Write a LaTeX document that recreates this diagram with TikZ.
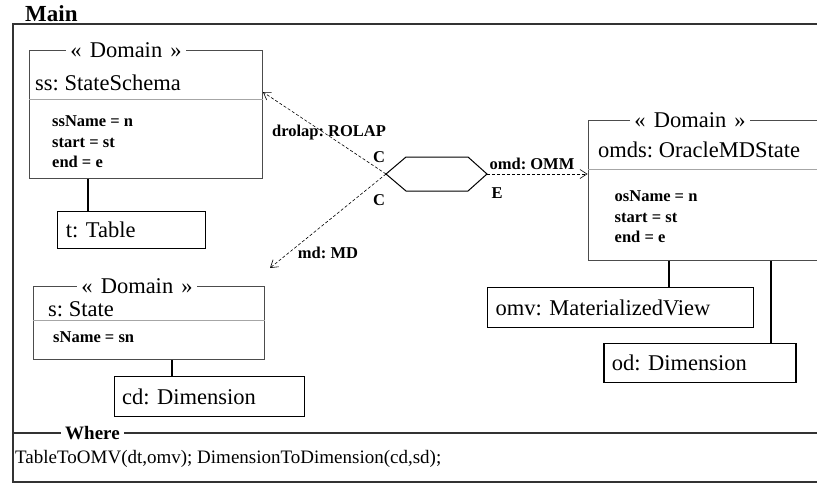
\documentclass[tikz,border=0pt]{standalone}
\usepackage{fontspec}
\setmainfont{Liberation Serif}
\usetikzlibrary{arrows.meta}
\frenchspacing

\newcommand\objfont{\fontsize{22.5}{26}\selectfont}
\newcommand\attrfont{\fontsize{16.5}{20.5}\selectfont\bfseries}
\newcommand\lblfont{\fontsize{16.5}{18}\selectfont\bfseries}
\newcommand\domst{«\hspace{0.36em}Domain\hspace{0.36em}»}

\tikzset{
	frame/.style={draw=black!80, line width=1.2pt},
	dombox/.style={draw=black!70, line width=0.9pt, anchor=north west, inner sep=0pt},
	divider/.style={draw=black!35, line width=0.9pt},
	stereo/.style={fill=white, inner sep=4pt, font=\objfont},
	objname/.style={anchor=west, inner sep=0pt, font=\objfont},
	attr/.style={anchor=west, inner sep=0pt, align=left, font=\attrfont},
	objbox/.style={draw, line width=1.1pt, anchor=north west, inner xsep=8pt, inner ysep=0pt, align=left, font=\objfont},
	link/.style={line width=1.1pt},
	lbl/.style={inner sep=0pt, font=\lblfont},
	depend/.style={dash pattern=on 3pt off 2pt, line width=0.6pt, -{Straight Barb[length=7pt,width=9pt]}},
}

\begin{document}
\begin{tikzpicture}[x=1pt,y=-1pt]
	\clip (0,0) rectangle (817,485);
	% outer frame
	\node[anchor=west, inner sep=0pt, font=\fontsize{23}{26}\selectfont\bfseries] (main) at (25,14) {Main};
	\draw[frame] (13,24) rectangle (830,482);
	\draw[frame] (13,433) -- (830,433);
	\node[fill=white, anchor=west, inner sep=4pt, font=\fontsize{19}{22}\selectfont\bfseries] (where) at (61,433) {Where};
	\node[anchor=west, inner sep=0pt, font=\fontsize{19}{22}\selectfont] (rel) at (15,459) {TableToOMV(dt,omv); DimensionToDimension(cd,sd);};

	% ss: StateSchema
	\node[dombox, minimum width=233pt, minimum height=128pt] (ss) at (29,50) {};
	\draw[divider] (ss.west |- 0,99) -- (ss.east |- 0,99);
	\node[stereo] (ssst) at (126,50) {\domst};
	\node[objname] (ssname) at (35,83) {ss: StateSchema};
	\node[attr] (ssattr) at (52,142) {ssName = n\\start = st\\end = e};
	\node[objbox, text width=132pt, minimum height=37.6pt] (t) at (57.3,210.7) {t: Table};
	\draw[link] (ss.south -| 88,0) -- (t.north -| 88,0);

	% s: State
	\node[dombox, minimum width=231.5pt, minimum height=73.3pt] (s) at (32.5,286) {};
	\draw[divider] (s.west |- 0,320) -- (s.east |- 0,320);
	\node[stereo] (sst) at (137,286) {\domst};
	\node[objname] (sname) at (48,309) {s: State};
	\node[attr] (sattr) at (53,337) {sName = sn};
	\node[objbox, text width=174pt, minimum height=39.7pt] (cd) at (113.6,376) {cd: Dimension};
	\draw[link] (s.south -| 172,0) -- (cd.north -| 172,0);

	% omds: OracleMDState
	\node[dombox, minimum width=240pt, minimum height=140pt] (omds) at (587.5,120) {};
	\draw[divider] (omds.west |- 0,169.3) -- (omds.east |- 0,169.3);
	\node[stereo] (omdsst) at (690,120) {\domst};
	\node[objname] (omdsname) at (598,150) {omds: OracleMDState};
	\node[attr] (omdsattr) at (614.5,217) {osName = n\\start = st\\end = e};
	\node[objbox, text width=250pt, minimum height=40pt] (omv) at (487,287) {omv: MaterializedView};
	\node[objbox, text width=176pt, minimum height=39.3pt] (od) at (603.4,343) {od: Dimension};
	\draw[link] (omds.south -| 669,0) -- (omv.north -| 669,0);
	\draw[link] (omds.south -| 771,0) -- (od.north -| 771,0);

	% transformation
	\coordinate (hexl) at (386,174);
	\coordinate (hexr) at (487,174);
	\coordinate (mdend) at (270,268);
	\draw[line width=1pt] (hexl) -- (406,157) -- (468,157) -- (hexr) -- (468,191) -- (406,191) -- cycle;
	\draw[depend] (hexl) -- (ss.east |- 0,92);
	\draw[depend] (hexl) -- (mdend);
	\draw[depend] (hexr) -- (omds.west |- hexr);
	\node[lbl] (drolap) at (329,133) {drolap: ROLAP};
	\node[lbl] (c1) at (379,157) {C};
	\node[lbl] (c2) at (379,200) {C};
	\node[lbl] (e1) at (497,193) {E};
	\node[lbl] (omd) at (532,164) {omd: OMM};
	\node[lbl] (md) at (328,253) {md: MD};
\end{tikzpicture}
\end{document}
